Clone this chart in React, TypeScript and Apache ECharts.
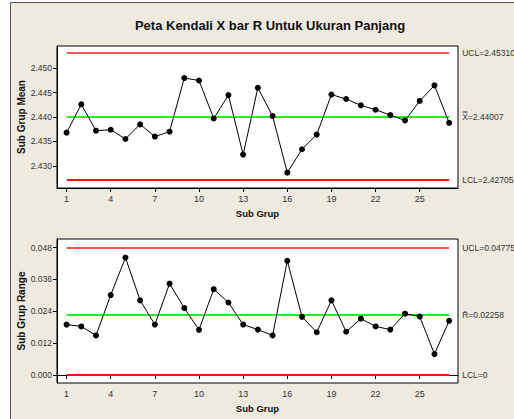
import React, { useEffect, useRef } from "react";
import * as echarts from "echarts";

const subGroups = Array.from({ length: 27 }, (_, i) => i + 1);
const xTickValues = [1, 4, 7, 10, 13, 16, 19, 22, 25];
const meanValues = [
  2.4368, 2.4426, 2.4372, 2.4374, 2.4355, 2.4385, 2.436, 2.437, 2.448, 2.4475,
  2.4397, 2.4445, 2.4323, 2.446, 2.4402, 2.4286, 2.4334, 2.4364, 2.4446, 2.4437,
  2.4424, 2.4415, 2.4404, 2.4393, 2.4433, 2.4465, 2.4388,
];
const rangeValues = [
  0.019, 0.0183, 0.0149, 0.0301, 0.0442, 0.0281, 0.019, 0.0344, 0.0252, 0.017,
  0.0323, 0.0273, 0.019, 0.0171, 0.0149, 0.043, 0.0219, 0.0161, 0.0281, 0.0163,
  0.0212, 0.0183, 0.0171, 0.0231, 0.022, 0.0079, 0.0204,
];
const meanTicks = [2.43, 2.435, 2.44, 2.445, 2.45];
const rangeTicks = [0, 0.012, 0.024, 0.036, 0.048];
const meanLimits = { ucl: 2.4531, center: 2.44007, lcl: 2.42705 };
const rangeLimits = { ucl: 0.04775, center: 0.02258, lcl: 0 };

const FONT = "'Liberation Sans', Arial, sans-serif";

function limitLines(lim: { ucl: number; center: number; lcl: number }, labels: string[]) {
  const mk = (v: number, color: string, text: string) => [
    {
      coord: [1, v],
      lineStyle: { color, width: 2, type: "solid" },
      label: {
        show: true,
        position: "end",
        distance: 13,
        formatter: text,
        color: "#333",
        fontSize: 8.5,
        fontFamily: FONT,
      },
    },
    { coord: [27, v] },
  ];
  return {
    silent: true,
    symbol: "none",
    data: [
      mk(lim.ucl, "#ff5555", labels[0]),
      mk(lim.center, "#22ee22", labels[1]),
      mk(lim.lcl, "#ff1111", labels[2]),
    ],
  };
}

export default function App() {
  const ref = useRef<HTMLDivElement>(null);
  useEffect(() => {
    document.body.style.margin = "0";
    const chart = echarts.init(ref.current!, null, { renderer: "svg" });
    const axisX = (gridIndex: number) => ({
      type: "value",
      gridIndex,
      min: 0.35,
      max: 27.6,
      name: "Sub Grup",
      nameLocation: "middle",
      nameGap: 20,
      nameTextStyle: { fontSize: 9.5, fontWeight: "bold", color: "#111", fontFamily: FONT },
      axisLine: { show: true, lineStyle: { color: "#000", width: 1 } },
      axisTick: { show: true, customValues: xTickValues, length: 4, lineStyle: { color: "#000" } },
      axisLabel: { customValues: xTickValues, fontSize: 9, color: "#333", margin: 6, fontFamily: FONT },
      splitLine: { show: false },
    });
    const axisY = (gridIndex: number, min: number, max: number, ticks: number[], name: string) => ({
      type: "value",
      gridIndex,
      min,
      max,
      name,
      nameLocation: "middle",
      nameGap: 31,
      nameMoveOverlap: false,
      nameTextStyle: { fontSize: 10, fontWeight: "bold", color: "#111", fontFamily: FONT },
      axisLine: { show: true, lineStyle: { color: "#000", width: 1 } },
      axisTick: { show: true, customValues: ticks, length: 4, lineStyle: { color: "#000" } },
      axisLabel: {
        customValues: ticks,
        fontSize: 8.5,
        color: "#333",
        margin: 5,
        fontFamily: FONT,
        formatter: (v: number) => v.toFixed(3),
      },
      splitLine: { show: false },
    });
    chart.setOption({
      animation: false,
      backgroundColor: "#ffffff",
      graphic: [
        {
          type: "rect",
          shape: { x: 10.5, y: 2.5, width: 520, height: 430 },
          style: { fill: "#eeeae0", stroke: "#555", lineWidth: 1 },
          z: -10,
        },
      ],
      title: {
        text: "Peta Kendali X bar R Untuk Ukuran Panjang",
        left: 265,
        top: 14,
        textAlign: "center",
        textStyle: { fontSize: 13, fontWeight: "bold", color: "#111", fontFamily: FONT },
      },
      grid: [
        { left: 57, top: 46, width: 401, height: 142, show: true, backgroundColor: "#fff", borderColor: "#000", borderWidth: 1 },
        { left: 57, top: 239, width: 401, height: 144, show: true, backgroundColor: "#fff", borderColor: "#000", borderWidth: 1 },
      ],
      xAxis: [axisX(0), axisX(1)],
      yAxis: [
        axisY(0, 2.42545, 2.45457, meanTicks, "Sub Grup Mean"),
        axisY(1, -0.003, 0.0512, rangeTicks, "Sub Grup Range"),
      ],
      series: [
        {
          type: "line",
          xAxisIndex: 0,
          yAxisIndex: 0,
          data: subGroups.map((s, i) => [s, meanValues[i]]),
          symbol: "circle",
          symbolSize: 6,
          itemStyle: { color: "#000" },
          lineStyle: { color: "#000", width: 1 },
          markLine: limitLines(meanLimits, [
            "UCL=2.45310",
            "X\u033F=2.44007",
            "LCL=2.42705",
          ]),
          z: 5,
        },
        {
          type: "line",
          xAxisIndex: 1,
          yAxisIndex: 1,
          data: subGroups.map((s, i) => [s, rangeValues[i]]),
          symbol: "circle",
          symbolSize: 6,
          itemStyle: { color: "#000" },
          lineStyle: { color: "#000", width: 1 },
          markLine: limitLines(rangeLimits, [
            "UCL=0.04775",
            "R\u0304=0.02258",
            "LCL=0",
          ]),
          z: 5,
        },
      ],
    });
    return () => chart.dispose();
  }, []);
  return <div ref={ref} style={{ position: "absolute", left: 0, top: 0, width: 514, height: 419 }} />;
}
